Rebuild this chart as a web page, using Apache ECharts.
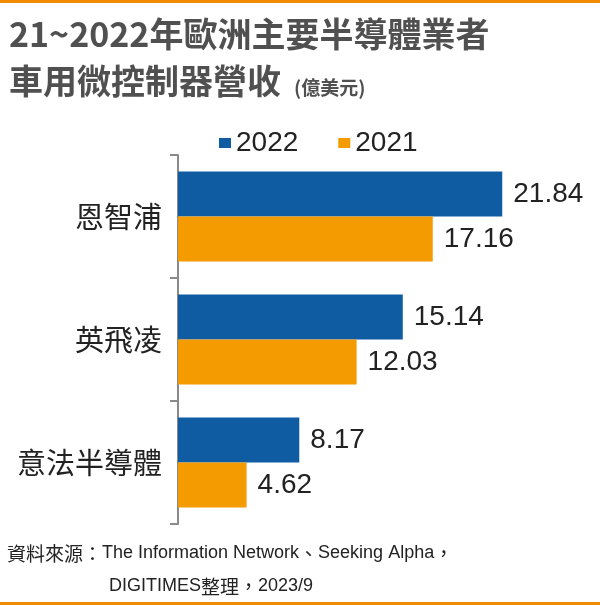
<!DOCTYPE html>
<html>
<head>
<meta charset="utf-8">
<script src="https://cdn.jsdelivr.net/npm/echarts@6/dist/echarts.min.js"></script>
<style>
  html, body { margin: 0; padding: 0; background: #fff; }
  #chart { width: 600px; height: 605px; }
</style>
</head>
<body>
<div id="chart"></div>
<script>
var companies = ['恩智浦', '英飛凌', '意法半導體'];
var seriesNames = ['2022', '2021'];
var revenue2022 = [21.84, 15.14, 8.17];
var revenue2021 = [17.16, 12.03, 4.62];

var cjk = '"Noto Sans CJK TC", "Noto Sans CJK SC", sans-serif';
var latin = '"Liberation Sans", Arial, ' + cjk;

var chart = echarts.init(document.getElementById('chart'));

var valueLabel = {
    show: true,
    position: 'right',
    distance: 11,
    fontFamily: latin,
    fontSize: 28,
    color: '#222'
};

// 資料來源的拉丁字比較窄，用 rich 分開設定
var sourceRich = {
    c: { fontFamily: cjk, fontSize: 19, fontWeight: 'normal', color: '#222' },
    l: { fontFamily: latin, fontSize: 18, fontWeight: 'normal', color: '#222' }
};

var option = {
    animation: false,
    color: ['#0F5CA3', '#F39B00'],
    title: [
        {
            text: '21~2022年歐洲主要半導體業者',
            left: 4, top: 12,
            textStyle: { fontFamily: cjk, fontSize: 34, fontWeight: 'bold', color: '#505050' }
        },
        {
            text: '車用微控制器營收',
            left: 4, top: 59,
            textStyle: { fontFamily: cjk, fontSize: 34, fontWeight: 'bold', color: '#505050' }
        },
        {
            text: '(億美元)',
            left: 289, top: 73,
            textStyle: { fontFamily: cjk, fontSize: 19, fontWeight: 'bold', color: '#505050' }
        },
        {
            text: '{c|資料來源：}{l|The Information Network}{c|、}{l|Seeking Alpha}{c|，}',
            left: 2, top: 539,
            textStyle: { fontWeight: 'normal', rich: sourceRich }
        },
        {
            text: '{l|DIGITIMES}{c|整理，}{l|2023/9}',
            left: 104, top: 572,
            textStyle: { fontWeight: 'normal', rich: sourceRich }
        }
    ],
    legend: {
        data: seriesNames,
        left: 214,
        top: 124,
        icon: 'rect',
        itemWidth: 12,
        itemHeight: 10,
        itemGap: 40,
        textStyle: { fontFamily: latin, fontSize: 28, color: '#222' }
    },
    grid: {
        left: 178,
        top: 155,
        width: 386,
        height: 369
    },
    xAxis: {
        type: 'value',
        min: 0,
        max: 26,
        show: false
    },
    yAxis: {
        type: 'category',
        data: companies,
        inverse: true,
        axisLine: { show: true, lineStyle: { color: '#8a8a8a', width: 2 } },
        axisTick: { show: true, alignWithLabel: false, length: 8, lineStyle: { color: '#8a8a8a', width: 2 } },
        axisLabel: { margin: 16, fontFamily: cjk, fontSize: 29, color: '#222' }
    },
    series: [
        {
            name: seriesNames[0],
            type: 'bar',
            data: revenue2022,
            barWidth: 45,
            barGap: '0%',
            label: valueLabel
        },
        {
            name: seriesNames[1],
            type: 'bar',
            data: revenue2021,
            barWidth: 45,
            barGap: '0%',
            label: valueLabel
        }
    ],
    graphic: [
        { type: 'rect', left: 0, top: 0, shape: { width: 600, height: 3 }, style: { fill: '#F08A00' } },
        { type: 'rect', left: 0, top: 602, shape: { width: 600, height: 3 }, style: { fill: '#F08A00' } }
    ]
};

chart.setOption(option);
</script>
</body>
</html>
